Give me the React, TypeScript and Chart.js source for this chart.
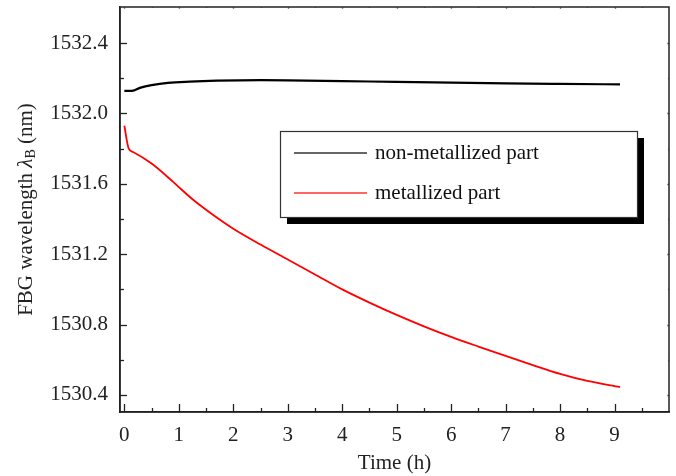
import React, { useEffect, useRef } from "react";
import { Chart, registerables } from "chart.js";

Chart.register(...registerables);

const FONT = "'Liberation Serif', 'Times New Roman', serif";

// Time (h) sampling points and series values (nm)
const blackTimes = [0, 0.14, 0.3, 0.5, 0.8, 1.2, 1.7, 2.5, 3, 4, 5, 6, 7, 8, 9.1];
const blackValues = [1532.128, 1532.128, 1532.147, 1532.161, 1532.174, 1532.181, 1532.186, 1532.189, 1532.188, 1532.184, 1532.179, 1532.175, 1532.171, 1532.168, 1532.165];

const redTimes = [0, 0.08, 0.16, 0.5, 0.9, 1.24, 1.6, 2, 2.5, 3, 3.5, 4, 4.5, 5, 5.5, 6, 6.5, 7, 7.5, 8, 8.5, 9.1];
const redValues = [1531.93, 1531.8, 1531.781, 1531.715, 1531.61, 1531.515, 1531.43, 1531.345, 1531.255, 1531.17, 1531.085, 1531.0, 1530.925, 1530.855, 1530.79, 1530.73, 1530.675, 1530.622, 1530.57, 1530.52, 1530.48, 1530.445];

const seriesLabels = ["non-metallized part", "metallized part"];
const seriesColors = ["#000000", "#ff0000"];

const xMajorTicks = [0, 1, 2, 3, 4, 5, 6, 7, 8, 9];
const xMinorTicks = [0.5, 1.5, 2.5, 3.5, 4.5, 5.5, 6.5, 7.5, 8.5, 9.5];
const yMajorTicks = [1530.4, 1530.8, 1531.2, 1531.6, 1532.0, 1532.4];
const yMinorTicks = [1530.6, 1531.0, 1531.4, 1531.8, 1532.2];

const X_MIN = -0.08;
const X_MAX = 10;
const Y_MIN = 1530.303;
const Y_MAX = 1532.605;

const tickPlugin = {
  id: "inwardTicks",
  afterDraw(chart: any) {
    const { ctx, chartArea: a, scales } = chart;
    const x = scales.x;
    const y = scales.y;
    ctx.save();
    ctx.strokeStyle = "#222";
    ctx.lineWidth = 1.3;
    const drawX = (v: number, len: number, mlen: number) => {
      const px = Math.round(x.getPixelForValue(v)) + 0.5;
      ctx.beginPath();
      ctx.moveTo(px, a.bottom);
      ctx.lineTo(px, a.bottom - len);
      ctx.stroke();
      ctx.strokeStyle = "#888";
      ctx.beginPath();
      ctx.moveTo(px, a.top);
      ctx.lineTo(px, a.top + mlen);
      ctx.stroke();
      ctx.strokeStyle = "#222";
    };
    const drawY = (v: number, len: number, mlen: number) => {
      const py = Math.round(y.getPixelForValue(v)) + 0.5;
      ctx.beginPath();
      ctx.moveTo(a.left, py);
      ctx.lineTo(a.left + len, py);
      ctx.stroke();
      ctx.strokeStyle = "#888";
      ctx.beginPath();
      ctx.moveTo(a.right, py);
      ctx.lineTo(a.right - mlen, py);
      ctx.stroke();
      ctx.strokeStyle = "#222";
    };
    xMajorTicks.forEach((v) => drawX(v, 8, 2));
    xMinorTicks.forEach((v) => drawX(v, 4, 1));
    yMajorTicks.forEach((v) => drawY(v, 7, 2));
    yMinorTicks.forEach((v) => drawY(v, 4, 1));

    // frame
    ctx.strokeStyle = "#222";
    ctx.lineWidth = 1.5;
    ctx.strokeRect(a.left, a.top, a.right - a.left, a.bottom - a.top);

    // Y-axis title with subscript
    ctx.fillStyle = "#222";
    ctx.textBaseline = "middle";
    const cy = (a.top + a.bottom) / 2;
    ctx.translate(26, cy);
    ctx.rotate(-Math.PI / 2);
    const normal = `21px ${FONT}`;
    const italic = `italic 21px ${FONT}`;
    const sub = `14px ${FONT}`;
    const parts = [
      { t: "FBG wavelength ", f: normal, dy: 0 },
      { t: "\u03bb", f: italic, dy: 0 },
      { t: "B", f: sub, dy: 5 },
      { t: " (nm)", f: normal, dy: 0 },
    ];
    let total = 0;
    parts.forEach((p) => {
      ctx.font = p.f;
      total += ctx.measureText(p.t).width;
    });
    let cx = -total / 2;
    ctx.textAlign = "left";
    parts.forEach((p) => {
      ctx.font = p.f;
      ctx.fillText(p.t, cx, p.dy);
      cx += ctx.measureText(p.t).width;
    });
    ctx.restore();

    // Legend with drop shadow
    ctx.save();
    const lx = a.left + 160;
    const ly = a.top + 124;
    const lw = 357;
    const lh = 86;
    ctx.fillStyle = "#000";
    ctx.fillRect(lx + 7, ly + 7, lw, lh);
    ctx.fillStyle = "#fff";
    ctx.fillRect(lx, ly, lw, lh);
    ctx.strokeStyle = "#333";
    ctx.lineWidth = 1.2;
    ctx.strokeRect(lx + 0.5, ly + 0.5, lw, lh);
    ctx.font = `21px ${FONT}`;
    ctx.textBaseline = "middle";
    ctx.textAlign = "left";
    seriesLabels.forEach((lab, i) => {
      const yy = ly + 22 + i * 40;
      ctx.strokeStyle = i === 0 ? "#333" : "#ff3333";
      ctx.lineWidth = 1.6;
      ctx.beginPath();
      ctx.moveTo(lx + 14, yy);
      ctx.lineTo(lx + 87, yy);
      ctx.stroke();
      ctx.fillStyle = "#111";
      ctx.fillText(lab, lx + 95, yy);
    });
    ctx.restore();
  },
};

export default function App() {
  const ref = useRef<HTMLCanvasElement | null>(null);
  useEffect(() => {
    document.body.style.margin = "0";
    const canvas = ref.current;
    if (!canvas) return;
    const chart = new Chart(canvas, {
      type: "line",
      data: {
        datasets: [
          {
            label: seriesLabels[0],
            data: blackTimes.map((t, i) => ({ x: t, y: blackValues[i] })),
            borderColor: seriesColors[0],
            borderWidth: 2.2,
            pointRadius: 0,
            cubicInterpolationMode: "monotone",
          },
          {
            label: seriesLabels[1],
            data: redTimes.map((t, i) => ({ x: t, y: redValues[i] })),
            borderColor: seriesColors[1],
            borderWidth: 1.8,
            pointRadius: 0,
            cubicInterpolationMode: "monotone",
          },
        ],
      },
      options: {
        responsive: false,
        animation: false,
        layout: { padding: { top: 7, right: 7, left: 0, bottom: 0 } },
        plugins: {
          legend: { display: false },
          tooltip: { enabled: false },
        },
        scales: {
          x: {
            type: "linear",
            min: X_MIN,
            max: X_MAX,
            grid: { display: false, drawTicks: false },
            border: { display: true, color: "#222", width: 1.5 },
            afterBuildTicks: (s: any) => {
              s.ticks = xMajorTicks.map((v) => ({ value: v }));
            },
            afterFit: (s: any) => {
              s.height = 64;
              s.paddingLeft = 0;
              s.paddingRight = 0;
            },
            ticks: {
              padding: 11,
              color: "#222",
              font: { family: FONT, size: 21 },
              maxRotation: 0,
              callback: (v: any) => String(v),
            },
            title: {
              display: true,
              text: "Time (h)",
              color: "#222",
              font: { family: FONT, size: 21 },
              padding: { top: 0, bottom: 0 },
            },
          },
          y: {
            type: "linear",
            min: Y_MIN,
            max: Y_MAX,
            grid: { display: false, drawTicks: false },
            border: { display: true, color: "#222", width: 1.5 },
            afterBuildTicks: (s: any) => {
              s.ticks = yMajorTicks.map((v) => ({ value: v }));
            },
            afterFit: (s: any) => {
              s.width = 120;
              s.paddingTop = 0;
              s.paddingBottom = 0;
            },
            ticks: {
              padding: 12,
              color: "#222",
              font: { family: FONT, size: 21 },
              callback: (v: any) => Number(v).toFixed(1),
            },
          },
        },
      },
      plugins: [tickPlugin],
    } as any);
    return () => chart.destroy();
  }, []);
  return (
    <div style={{ position: "absolute", left: 0, top: 0, width: 676, height: 476 }}>
      <canvas ref={ref} width={676} height={476} style={{ width: 676, height: 476 }} />
    </div>
  );
}
